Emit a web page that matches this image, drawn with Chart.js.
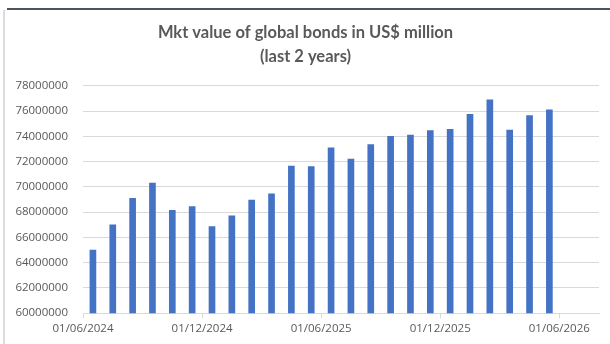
<!DOCTYPE html>
<html>
<head>
<meta charset="utf-8">
<title>Mkt value of global bonds</title>
<script src="https://cdn.jsdelivr.net/npm/chart.js"></script>
<style>
  body { margin: 0; background: #fff; }
  #wrap { position: relative; width: 610px; height: 344px; overflow: hidden; }
  #topline { position: absolute; left: 7px; top: 8px; right: 0; height: 2px; background: #4d5660; }
  #leftline { position: absolute; left: 3px; top: 10px; bottom: 0; width: 2px; background: #dcdcdc; }
  canvas { position: absolute; left: 0; top: 0; }
</style>
</head>
<body>
<div id="wrap">
  <div id="topline"></div>
  <div id="leftline"></div>
  <canvas id="myChart" width="610" height="344"></canvas>
</div>
<script>
// monthly observations, Jun 2024 .. May 2026
const months = ['Jun 2024', 'Jul 2024', 'Aug 2024', 'Sep 2024', 'Oct 2024', 'Nov 2024',
                'Dec 2024', 'Jan 2025', 'Feb 2025', 'Mar 2025', 'Apr 2025', 'May 2025',
                'Jun 2025', 'Jul 2025', 'Aug 2025', 'Sep 2025', 'Oct 2025', 'Nov 2025',
                'Dec 2025', 'Jan 2026', 'Feb 2026', 'Mar 2026', 'Apr 2026', 'May 2026'];
const marketValue = [65000000, 67000000, 69100000, 70300000, 68150000, 68450000,
                     66850000, 67700000, 68950000, 69450000, 71650000, 71600000,
                     73100000, 72200000, 73350000, 74000000, 74100000, 74450000,
                     74550000, 75750000, 76900000, 74500000, 75650000, 76100000];
const dateTicks = ['01/06/2024', '01/12/2024', '01/06/2025', '01/12/2025', '01/06/2026'];

const grey = '#595959';
const ctx = document.getElementById('myChart').getContext('2d');

const myChart = new Chart(ctx, {
    type: 'bar',
    data: {
        datasets: [{
            label: 'Mkt value',
            data: marketValue.map((v, i) => ({ x: i + 0.5, y: v })),
            backgroundColor: '#4472C4',
            borderWidth: 0,
            barThickness: 6
        }]
    },
    options: {
        responsive: false,
        animation: false,
        layout: { padding: { left: 12, right: 11, top: 0, bottom: 4 } },
        plugins: {
            legend: { display: false },
            tooltip: { enabled: false },
            title: {
                display: true,
                text: ['Mkt value of global bonds in US$ million', '(last 2 years)'],
                color: grey,
                font: { family: 'Lato', size: 16.5, weight: 'bold', lineHeight: 1.45 },
                padding: { top: 21, bottom: 17 }
            }
        },
        scales: {
            x: {
                type: 'linear',
                min: 0,
                max: months.length + 2,
                offset: false,
                grid: { offset: false, drawOnChartArea: false, drawTicks: true, tickLength: 5, color: '#d9d9d9' },
                border: { color: '#d9d9d9', width: 1 },
                ticks: {
                    stepSize: 6,
                    includeBounds: false,
                    autoSkip: false,
                    maxRotation: 0,
                    padding: 4,
                    color: grey,
                    font: { family: 'Open Sans', size: 11.5 },
                    callback: v => dateTicks[v / 6] ?? ''
                }
            },
            y: {
                min: 60000000,
                max: 78000000,
                afterFit: s => { s.width = 71; },
                grid: { color: '#d9d9d9', lineWidth: 1, drawTicks: false },
                border: { display: false },
                ticks: {
                    stepSize: 2000000,
                    padding: 15,
                    color: grey,
                    font: { family: 'Open Sans', size: 11.5 },
                    callback: v => String(v)
                }
            }
        }
    }
});
</script>
</body>
</html>
